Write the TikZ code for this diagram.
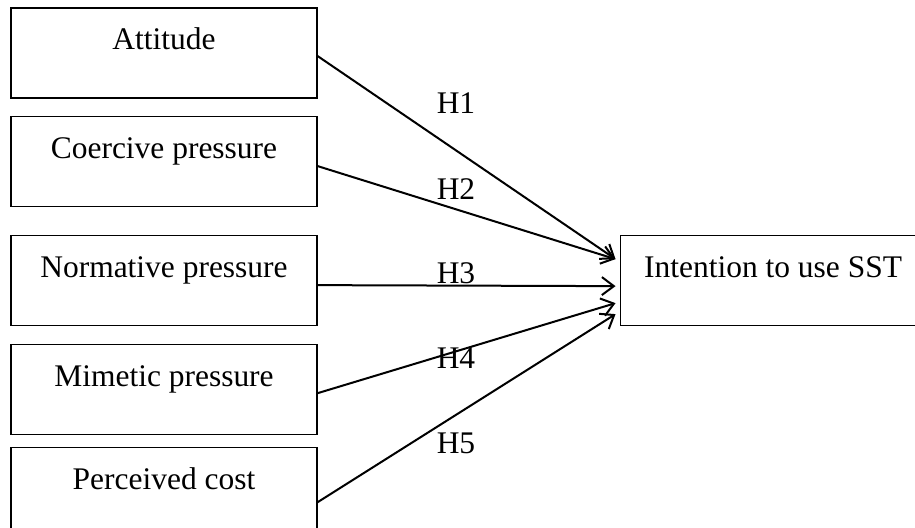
\documentclass[tikz,border=0pt]{standalone}
\usepackage{fontspec}
\setmainfont{Liberation Serif}
\usetikzlibrary{positioning,arrows.meta}
\tikzset{construct/.style={draw,line width=0.8pt,minimum width=229.5pt,inner xsep=0pt,inner ysep=0pt,text height=31.5pt,text depth=36pt,font=\fontsize{23.6}{28}\selectfont}}
\tikzset{link/.style={-{Straight Barb[length=9pt,width=13.5pt]},line width=1.5pt}}
\tikzset{hyp/.style={font=\fontsize{23.6}{28}\selectfont}}

\begin{document}
\begin{tikzpicture}[x=0.75pt,y=-0.75pt]
\useasboundingbox (0,0) rectangle (915,528);
\node[construct](att) at (164,53){Attitude};
\node[construct](coe)[below=12.75pt of att]{Coercive pressure};
\node[construct](nor)[below=21pt of coe]{Normative pressure};
\node[construct](mim)[below=13.5pt of nor]{Mimetic pressure};
\node[construct](per)[below=9pt of mim]{Perceived cost};
\node[construct](sst)[right=226.5pt of nor]{Intention to use SST};
\draw[link]([yshift=-2.25pt]att.east) -- ([xshift=-3pt,yshift=15.75pt]sst.west);
\draw[link]([yshift=-3.75pt]coe.east) -- ([xshift=-3pt,yshift=15.75pt]sst.west);
\draw[link]([yshift=-3.75pt]nor.east) -- ([xshift=-3pt,yshift=-4.5pt]sst.west);
\draw[link]([yshift=-3pt]mim.east) -- ([xshift=-3pt,yshift=-17.25pt]sst.west);
\draw[link]([yshift=-7.5pt]per.east) -- ([xshift=-3pt,yshift=-25.5pt]sst.west);
\node[hyp](h1) at (456,103){H1};
\node[hyp](h2) at (456,189){H2};
\node[hyp](h3) at (456,273){H3};
\node[hyp](h4) at (456,358){H4};
\node[hyp](h5) at (456,443){H5};
\end{tikzpicture}
\end{document}
